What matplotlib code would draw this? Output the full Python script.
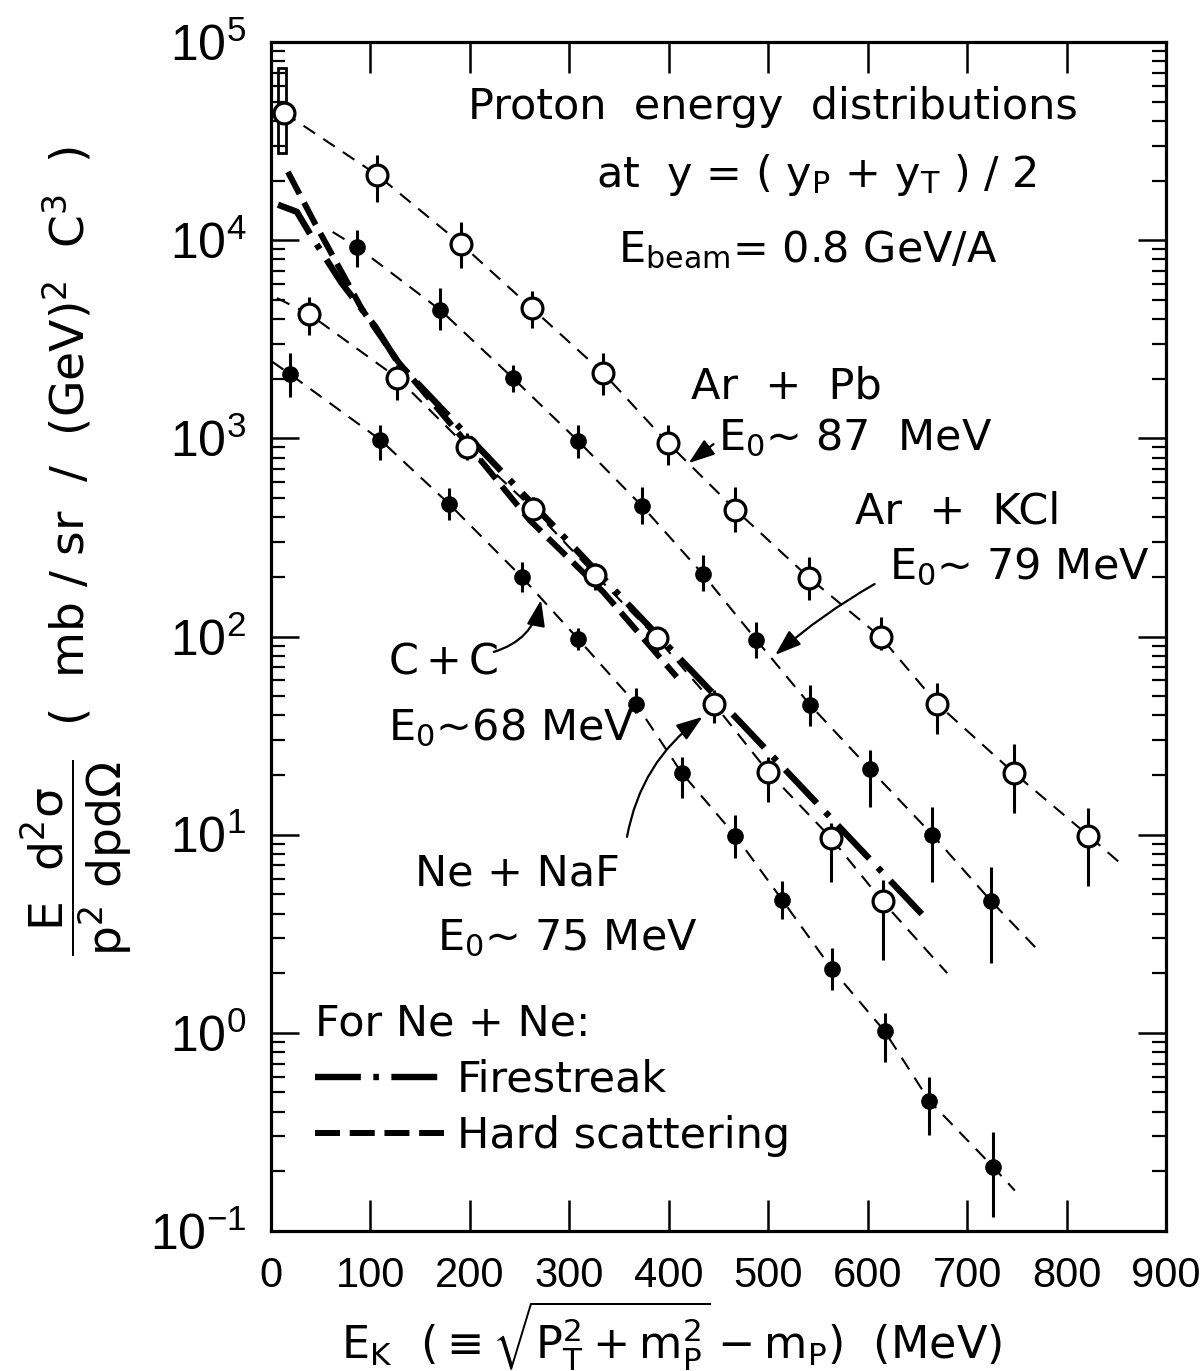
import numpy as np
import matplotlib
matplotlib.use("Agg")
import matplotlib.pyplot as plt
from matplotlib.patches import Rectangle
from matplotlib.lines import Line2D
from matplotlib.ticker import NullLocator, LogLocator

plt.rcParams['font.family'] = ['Liberation Sans', 'DejaVu Sans']
plt.rcParams['mathtext.fontset'] = 'dejavusans'
plt.rcParams['mathtext.default'] = 'regular'
plt.rcParams['lines.scale_dashes'] = False

# ── Data (E_K in MeV, invariant cross section) ──────────────────────────────
# Ar + Pb  (open circles)
pb_e   = [13, 107, 191, 262, 334, 399, 467, 541, 613, 670, 747, 822]
pb_sig = [44000, 21300, 9580, 4550, 2140, 948, 436, 198, 99.5, 45.7, 20.5, 9.9]
pb_lo  = [44000, 15600, 7240, 3610, 1655, 734, 337, 153, 85.5, 32.3, 12.9, 5.5]
pb_hi  = [44000, 26900, 12360, 5540, 2700, 1169, 569, 252, 125.6, 58.3, 28.7, 13.6]
pb_box_e   = [7, 15]          # systematic box on the first Ar+Pb point
pb_box_sig = [27500, 74000]

# Ar + KCl  (filled circles)
kcl_e   = [86.5, 170, 243, 309, 373, 434, 488, 542, 602, 665, 724]
kcl_sig = [9250, 4450, 2020, 968, 456, 207, 96.2, 45.2, 21.5, 10.0, 4.63]
kcl_lo  = [7320, 3520, 1714, 796, 370, 170, 78, 35.4, 13.8, 5.78, 2.25]
kcl_hi  = [11260, 5740, 2345, 1169, 569, 258, 118.5, 57, 26.8, 13.8, 6.88]

# Ne + NaF  (open circles)
naf_e   = [38, 127, 197, 263.5, 326, 388, 445.5, 500, 563, 615]
naf_sig = [4250, 2020, 905, 441, 205, 98.4, 45.7, 20.7, 9.64, 4.6]
naf_lo  = [3323, 1563, 778, 387, 172, 83.6, 36.6, 14.7, 5.78, 2.33]
naf_hi  = [5170, 2345, 1065, 506, 235, 111.7, 53.8, 24.7, 11.5, 5.91]

# C + C  (filled circles)
cc_e   = [19, 110, 179, 252, 309, 367, 413, 467, 514, 564, 617, 662, 726]
cc_sig = [2110, 982, 467, 200, 97, 45.7, 20.5, 9.87, 4.69, 2.10, 1.02, 0.454, 0.211]
cc_lo  = [1618, 778, 387, 168, 85.5, 41.2, 15.3, 7.64, 3.76, 1.65, 0.714, 0.305, 0.118]
cc_hi  = [2700, 1169, 562, 238, 110.5, 55, 24.7, 12.6, 5.85, 2.69, 1.26, 0.600, 0.317]

# thin dashed fits (exponential, slope -> E_0)
pb_fit_e    = [13, 107, 191, 262, 334, 399, 467, 541, 613, 670, 747, 822, 858]
pb_fit_sig  = [44000, 21300, 9580, 4550, 2140, 948, 436, 198, 99.5, 45.7, 20.5, 9.9, 6.9]
kcl_fit_e   = [62, 86.5, 170, 243, 309, 373, 434, 488, 542, 602, 665, 724, 775]
kcl_fit_sig = [11000, 9250, 4450, 2020, 968, 456, 207, 96.2, 45.2, 21.5, 10.0, 4.63, 2.5]
naf_fit_e   = [6, 38, 127, 197, 263.5, 326, 388, 445.5, 500, 563, 615, 680]
naf_fit_sig = [5100, 4250, 2020, 905, 441, 205, 98.4, 45.7, 20.7, 9.64, 4.6, 2.0]
cc_fit_e    = [1, 19, 110, 179, 252, 309, 367, 413, 467, 514, 564, 617, 662, 726, 748]
cc_fit_sig  = [2440, 2110, 982, 467, 200, 97, 45.7, 20.5, 9.87, 4.69, 2.10, 1.02, 0.454, 0.211, 0.16]

# Ne + Ne model curves
fire_e   = [7, 26, 41, 71, 105, 128, 264, 445, 656]
fire_sig = [15100, 13900, 10400, 6080, 3650, 2400, 461, 51.3, 3.9]
hard_e   = [17, 44, 92, 128, 190, 260, 334, 408]
hard_sig = [22100, 12200, 4440, 2430, 1040, 387, 168, 62.5]

x_ticks = [0, 100, 200, 300, 400, 500, 600, 700, 800, 900]

# ── Figure ───────────────────────────────────────────────────────────────────
fig = plt.figure(figsize=(12, 13.71), dpi=100)
ax = fig.add_axes([271 / 1200, 140 / 1371, 895 / 1200, 1189 / 1371])
ax.set_yscale('log')
ax.set_xlim(0, 900)
ax.set_ylim(0.1, 1e5)

TXT = dict(family='DejaVu Sans', fontsize=31, color='black')

def fit(e, s):
    ax.plot(e, s, color='black', lw=1.5, dashes=(10, 7), zorder=2)

fit(pb_fit_e, pb_fit_sig)
fit(kcl_fit_e, kcl_fit_sig)
fit(naf_fit_e, naf_fit_sig)
fit(cc_fit_e, cc_fit_sig)

FIRE_DASH = (33, 9, 4, 9)
HARD_DASH = (18, 7)
ax.plot(fire_e, fire_sig, color='black', lw=4.6, dashes=FIRE_DASH,
        dash_capstyle='butt', zorder=2)
ax.plot(hard_e, hard_sig, color='black', lw=4.3, dashes=HARD_DASH,
        dash_capstyle='butt', zorder=2)

def points(e, s, lo, hi, open_marker):
    s = np.array(s); lo = np.array(lo); hi = np.array(hi)
    if open_marker:
        kw = dict(ms=15, mfc='white', mec='black', mew=2.3)
    else:
        kw = dict(ms=11, mfc='black', mec='black', mew=1)
    ax.errorbar(e, s, yerr=[s - lo, hi - s], fmt='o', color='black',
                ecolor='black', elinewidth=2.2, capsize=0, zorder=4, **kw)

points(pb_e, pb_sig, pb_lo, pb_hi, True)
points(kcl_e, kcl_sig, kcl_lo, kcl_hi, False)
points(naf_e, naf_sig, naf_lo, naf_hi, True)
points(cc_e, cc_sig, cc_lo, cc_hi, False)

ax.add_patch(Rectangle((pb_box_e[0], pb_box_sig[0]), pb_box_e[1] - pb_box_e[0],
                       pb_box_sig[1] - pb_box_sig[0], fill=False,
                       edgecolor='black', lw=2, zorder=3))

# ── Axes styling ─────────────────────────────────────────────────────────────
for sp in ax.spines.values():
    sp.set_linewidth(2.3)
ax.set_xticks(x_ticks)
ax.xaxis.set_minor_locator(NullLocator())
ax.yaxis.set_major_locator(LogLocator(base=10, numticks=10))
ax.yaxis.set_minor_locator(LogLocator(base=10, subs=np.arange(2, 10), numticks=20))
ax.tick_params(axis='x', which='major', direction='in', length=22, width=1.8,
               top=True, bottom=True, labelsize=30, pad=18)
ax.tick_params(axis='y', which='major', direction='in', length=20, width=1.8,
               left=True, right=True, labelsize=36, pad=18)
ax.tick_params(axis='y', which='minor', direction='in', length=10, width=1.6,
               left=True, right=True)

ax.set_xlabel(r'$E_K\ \ (\equiv\sqrt{P_T^2+m_P^2}-m_P)$  (MeV)',
              family='DejaVu Sans', fontsize=32)
ax.xaxis.set_label_coords(0.448, -0.058)

fig.text(0.064, 0.598,
         r'$\dfrac{E\ \ d^2\sigma}{p^2 \ dpd\Omega}$  (  mb / sr  /  (GeV)$^2$  C$^3$  )',
         rotation=90, ha='center', va='center', family='DejaVu Sans', fontsize=34)

# ── Annotations ──────────────────────────────────────────────────────────────
ax.text(0.561, 0.935, 'Proton  energy  distributions', ha='center',
        va='baseline', transform=ax.transAxes, **TXT)
ax.text(0.610, 0.878, r'at  y = ( y$_P$ + y$_T$ ) / 2', ha='center',
        va='baseline', transform=ax.transAxes, **TXT)
ax.text(0.600, 0.815, r'E$_{beam}$= 0.8 GeV/A', ha='center',
        va='baseline', transform=ax.transAxes, **TXT)

ax.text(0.469, 0.700, 'Ar  +  Pb', va='baseline', transform=ax.transAxes, **TXT)
ax.text(0.500, 0.657, r'E$_0$~ 87  MeV', va='baseline', transform=ax.transAxes, **TXT)
ax.text(0.652, 0.595, 'Ar  +  KCl', va='baseline', transform=ax.transAxes, **TXT)
ax.text(0.690, 0.548, r'E$_0$~ 79 MeV', va='baseline', transform=ax.transAxes, **TXT)
ax.text(0.131, 0.469, r'C$\,$+$\,$C', va='baseline', transform=ax.transAxes, **TXT)
ax.text(0.131, 0.413, r'E$_0$~68 MeV', va='baseline', transform=ax.transAxes, **TXT)
ax.text(0.161, 0.291, 'Ne + NaF', va='baseline', transform=ax.transAxes, **TXT)
ax.text(0.186, 0.236, r'E$_0$~ 75 MeV', va='baseline', transform=ax.transAxes, **TXT)

def arrow(tip, tail, rad=0.0):
    ax.annotate('', xy=tip, xytext=tail, zorder=5,
                arrowprops=dict(arrowstyle='-|>,head_length=0.8,head_width=0.28',
                                mutation_scale=20, lw=1.6, color='black',
                                shrinkA=0, shrinkB=0,
                                connectionstyle=f'arc3,rad={rad}'))

arrow((420, 750), (445, 935))
arrow((507, 80.7), (607, 184), 0.05)
arrow((271.5, 153), (224, 83.6), 0.3)
arrow((434, 39.3), (358, 9.75), -0.2)

# ── Legend for the Ne + Ne model curves ─────────────────────────────────────
handles = [Line2D([], [], color='black', lw=4.6, dashes=FIRE_DASH),
           Line2D([], [], color='black', lw=4.3, dashes=HARD_DASH)]
ax.legend(handles, ['Firestreak', 'Hard scattering'], title='For Ne + Ne:',
          loc='upper left', bbox_to_anchor=(0.049, 0.192), frameon=False,
          handlelength=3.0, handletextpad=0.3, labelspacing=0.33,
          borderpad=0, borderaxespad=0, alignment='left',
          prop=dict(family='DejaVu Sans', size=31),
          title_fontproperties=dict(family='DejaVu Sans', size=31))

fig.savefig('out.png', dpi=100, facecolor='white')
